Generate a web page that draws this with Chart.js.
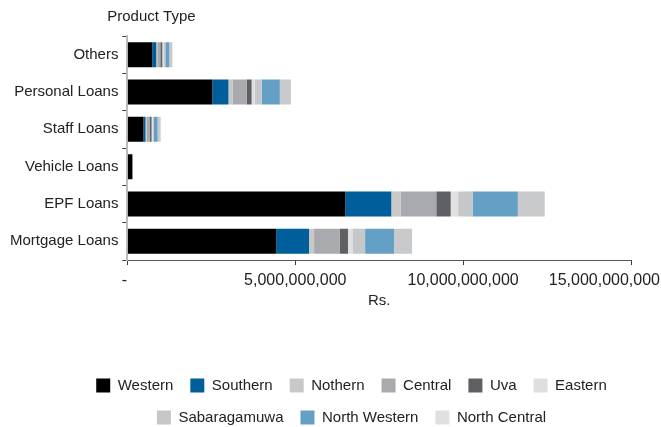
<!DOCTYPE html>
<html>
<head>
<meta charset="utf-8">
<script src="https://cdn.jsdelivr.net/npm/chart.js@4.4.1/dist/chart.umd.min.js"></script>
<style>
  html, body { margin: 0; padding: 0; background: #fff; }
  #wrap { width: 661px; height: 427px; }
</style>
</head>
<body>
<div id="wrap"><canvas id="loanChart"></canvas></div>
<script>
// loan portfolio by product type, split by province (Rs.)
const productTypes = ['Others', 'Personal Loans', 'Staff Loans', 'Vehicle Loans', 'EPF Loans', 'Mortgage Loans'];
const provinces = ['Western', 'Southern', 'Nothern', 'Central', 'Uva', 'Eastern', 'Sabaragamuwa', 'North Western', 'North Central'];

const western      = [740000000, 2530000000, 480000000, 150000000, 6490000000, 4430000000];
const southern     = [120000000,  480000000,  60000000,         0, 1370000000,  980000000];
const nothern      = [ 30000000,  120000000,  30000000,         0,  280000000,  150000000];
const central      = [ 90000000,  420000000,  90000000,         0, 1060000000,  770000000];
const uva          = [ 60000000,  150000000,  60000000,         0,  430000000,  240000000];
const eastern      = [ 40000000,   90000000,  30000000,         0,  220000000,  150000000];
const sabaragamuwa = [ 50000000,  210000000,  30000000,         0,  430000000,  360000000];
const northWestern = [120000000,  540000000, 120000000,         0, 1350000000,  860000000];
const northCentral = [ 90000000,  330000000,  90000000,         0,  800000000,  540000000];

const xTicks = [0, 5000000000, 10000000000, 15000000000];

const seriesValues = [western, southern, nothern, central, uva, eastern, sabaragamuwa, northWestern, northCentral];
const barColors = ['#000000', '#005f9a', '#c8c8c8', '#a9aaae', '#5f6063', '#e0e0e2', '#c6c7c9', '#649fc6', '#c9cacc'];
const swatchColors = ['#000000', '#005f9a', '#c8c8c8', '#a9aaae', '#5f6063', '#dedfe1', '#c6c7c9', '#649fc6', '#e0e0e2'];

Chart.defaults.font.family = '"Liberation Sans", Arial, sans-serif';
Chart.defaults.color = '#222';

function formatRs(v) {
  return v === 0 ? '-' : v.toLocaleString('en-US');
}

// heading over the category axis, x tick labels kept inside the canvas,
// and the legend nudged to sit under the plot
const extras = {
  id: 'extras',
  afterLayout(chart) {
    const lg = chart.legend;
    lg.left += 33; lg.right += 33;
    lg.top += 8; lg.bottom += 8;
  },
  afterDraw(chart) {
    const ctx = chart.ctx;
    const area = chart.chartArea;
    const xs = chart.scales.x;
    ctx.save();
    ctx.fillStyle = '#222';
    ctx.textBaseline = 'middle';
    ctx.textAlign = 'center';
    ctx.font = '15px "Liberation Sans", Arial, sans-serif';
    ctx.fillText('Product Type', area.left + 24, area.top - 19);

    ctx.font = '16px "Liberation Sans", Arial, sans-serif';
    xs.ticks.forEach(t => {
      const text = formatRs(t.value);
      const w = ctx.measureText(text).width;
      let x = xs.getPixelForValue(t.value);
      x = Math.min(x, chart.width - w / 2 - 1);
      if (t.value === 0) x -= 3;
      ctx.fillText(text, x, xs.top + 21);
    });
    ctx.restore();
  }
};

new Chart(document.getElementById('loanChart'), {
  type: 'bar',
  data: {
    labels: productTypes,
    datasets: provinces.map((name, i) => ({
      label: name,
      data: seriesValues[i],
      backgroundColor: barColors[i],
      borderWidth: 0,
      barPercentage: 0.67,
      categoryPercentage: 1
    }))
  },
  options: {
    indexAxis: 'y',
    responsive: true,
    maintainAspectRatio: false,
    animation: false,
    layout: { padding: { top: 36, left: 6, right: 30, bottom: 0 } },
    scales: {
      x: {
        stacked: true,
        min: 0,
        max: 15000000000,
        afterBuildTicks: scale => { scale.ticks = xTicks.map(v => ({ value: v })); },
        ticks: { display: false },
        grid: { drawOnChartArea: false, drawTicks: true, tickLength: 5, color: '#3a3a3a' },
        border: { color: '#555', width: 1 },
        title: {
          display: true,
          text: 'Rs.',
          font: { size: 15 },
          color: '#222',
          padding: { top: 27, bottom: 43 }
        }
      },
      y: {
        stacked: true,
        ticks: { font: { size: 15 }, color: '#222', padding: 4 },
        grid: { drawOnChartArea: false, drawTicks: true, tickLength: 5, color: '#3a3a3a' },
        border: { color: '#bcbcbc', width: 2 }
      }
    },
    plugins: {
      legend: {
        position: 'bottom',
        labels: {
          boxWidth: 14,
          boxHeight: 14,
          padding: 17,
          font: { size: 15 },
          color: '#222',
          generateLabels(chart) {
            const items = Chart.defaults.plugins.legend.labels.generateLabels(chart);
            items.forEach((it, i) => { it.fillStyle = swatchColors[i]; it.strokeStyle = swatchColors[i]; it.lineWidth = 0; });
            return items;
          }
        }
      },
      tooltip: { enabled: false }
    }
  },
  plugins: [extras]
});
</script>
</body>
</html>
